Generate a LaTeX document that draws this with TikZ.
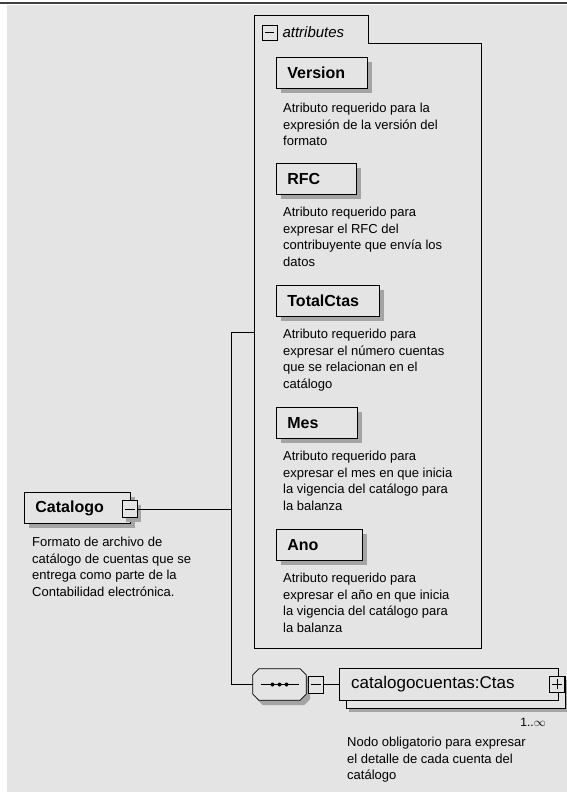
\documentclass[tikz,border=0pt]{standalone}
\usepackage{fontspec}
\setmainfont{Liberation Sans}
\usetikzlibrary{shadows}

\definecolor{bgcol}{HTML}{E4E4E4}
\definecolor{shadecol}{HTML}{A4A4A4}

\tikzset{
	attr/.style={draw, thick, fill=bgcol, anchor=north west, minimum height=31pt, inner xsep=11pt, font=\fontsize{16}{16}\selectfont\bfseries, general shadow={shadow xshift=5pt, shadow yshift=-5pt, fill=shadecol}},
	desc/.style={anchor=north west, align=left, inner sep=0pt, font=\fontsize{13}{16.5}\selectfont},
	pmbox/.style={draw, thick, fill=bgcol, minimum size=15pt, inner sep=0pt},
	pmshadow/.style={general shadow={shadow xshift=3pt, shadow yshift=-4pt, fill=shadecol}},
	seqbox/.style={minimum width=53pt, minimum height=31pt, inner sep=0pt},
	ctasbox/.style={draw, fill=bgcol, anchor=north west, minimum width=219pt, minimum height=32pt, inner xsep=12pt, font=\fontsize{17}{17}\selectfont, general shadow={shadow xshift=10pt, shadow yshift=-12pt, fill=shadecol}, general shadow={shadow xshift=7pt, shadow yshift=-8pt, fill=bgcol, draw=black, thin}}
}

\begin{document}
\begin{tikzpicture}[x=1pt, y=-1pt]
	\useasboundingbox (0,0) rectangle (567,792);
	% background
	\fill[bgcol] (7,5) rectangle (567,792);
	\draw[line width=2pt, black!75] (0,3) -- (567,3);

	% attributes group
	\node[inner sep=0pt, anchor=north west, minimum width=227pt, minimum height=605pt] (attribs) at (254,43) {};
	\draw[thick] (attribs.south west) -- (254,15) -- (368,15) -- (368,43) -- (attribs.north east) -- (attribs.south east) -- cycle;
	\node[pmbox] (attrminus) at (269.5,32.5) {};
	\node[anchor=west, font=\fontsize{15}{15}\selectfont\itshape] (attrlabel) at (279,32) {attributes};

	% nodes
	\node[attr, text width=69pt] (version) at (276,57) {Version};
	\node[desc] (versiondesc) at (283,103) {Atributo requerido para la\\expresión de la versión del\\formato};
	\node[attr, text width=58pt] (rfc) at (276,163) {RFC};
	\node[desc] (rfcdesc) at (283,207) {Atributo requerido para\\expresar el RFC del\\contribuyente que envía los\\datos};
	\node[attr, text width=81pt] (totalctas) at (276,285) {TotalCtas};
	\node[desc] (totalctasdesc) at (283,329) {Atributo requerido para\\expresar el número cuentas\\que se relacionan en el\\catálogo};
	\node[attr, text width=59pt] (mes) at (276,407) {Mes};
	\node[desc] (mesdesc) at (283,451) {Atributo requerido para\\expresar el mes en que inicia\\la vigencia del catálogo para\\la balanza};
	\node[attr, text width=64pt] (ano) at (276,529) {Ano};
	\node[desc] (anodesc) at (283,573) {Atributo requerido para\\expresar el año en que inicia\\la vigencia del catálogo para\\la balanza};

	\node[attr, text width=84pt] (catalogo) at (24,492) {Catalogo};
	\node[pmbox, pmshadow, minimum height=17pt] (catminus) at (130,509) {};
	\node[desc] (catalogodesc) at (32,537) {Formato de archivo de\\catálogo de cuentas que se\\entrega como parte de la\\Contabilidad electrónica.};

	\node[seqbox] (seq) at (279.5,684.5) {};
	\fill[shadecol] ([xshift=10pt,yshift=-5pt]seq.north west) -- ([xshift=-2pt,yshift=-5pt]seq.north east) -- ([xshift=4pt,yshift=-11pt]seq.north east) -- ([xshift=4pt,yshift=1pt]seq.south east) -- ([xshift=-2pt,yshift=-5pt]seq.south east) -- ([xshift=10pt,yshift=-5pt]seq.south west) -- ([xshift=4pt,yshift=1pt]seq.south west) -- ([xshift=4pt,yshift=-11pt]seq.north west) -- cycle;
	\draw[thick, fill=bgcol] ([xshift=6pt]seq.north west) -- ([xshift=-6pt]seq.north east) -- ([yshift=-6pt]seq.north east) -- ([yshift=6pt]seq.south east) -- ([xshift=-6pt]seq.south east) -- ([xshift=6pt]seq.south west) -- ([yshift=6pt]seq.south west) -- ([yshift=-6pt]seq.north west) -- cycle;
	\node[pmbox, minimum height=17pt] (seqminus) at (316,684.5) {};
	\node[ctasbox, text width=195pt] (ctas) at (339,668) {catalogocuentas:Ctas};
	\node[pmbox, minimum height=16pt] (ctasplus) at (557,684) {};
	\node[anchor=north east, inner sep=0pt, font=\fontsize{12}{12}\selectfont] (ctasocc) at (546,718) {1..$\infty$};
	\node[desc] (ctasdesc) at (347,737) {Nodo obligatorio para expresar\\el detalle de cada cuenta del\\catálogo};

	% signs
	\draw[thick] ([xshift=3pt]attrminus.west) -- ([xshift=-3pt]attrminus.east);
	\draw[thick] ([xshift=3pt]catminus.west) -- ([xshift=-3pt]catminus.east);
	\draw[thick] ([xshift=3pt]seqminus.west) -- ([xshift=-3pt]seqminus.east);
	\draw[thick] ([xshift=3pt]ctasplus.west) -- ([xshift=-3pt]ctasplus.east);
	\draw[thick] ([yshift=3pt]ctasplus.south) -- ([yshift=-3pt]ctasplus.north);
	\draw[thick] ([xshift=-19pt]seq.center) -- ([xshift=19pt]seq.center);
	\fill ([xshift=-7pt]seq.center) circle (2pt);
	\fill (seq.center) circle (2pt);
	\fill ([xshift=7pt]seq.center) circle (2pt);

	% lines
	\coordinate (fork) at (231,509);
	\coordinate (forktop) at (231,332);
	\coordinate (forkbot) at (231,684.5);
	\draw[semithick] (catminus) -- (fork);
	\draw (forktop) -- (forkbot);
	\draw (forktop) -- (forktop -| attribs.west);
	\draw[semithick] (forkbot) -- (seq);
	\draw[semithick] (seqminus) -- (ctas);
\end{tikzpicture}
\end{document}
